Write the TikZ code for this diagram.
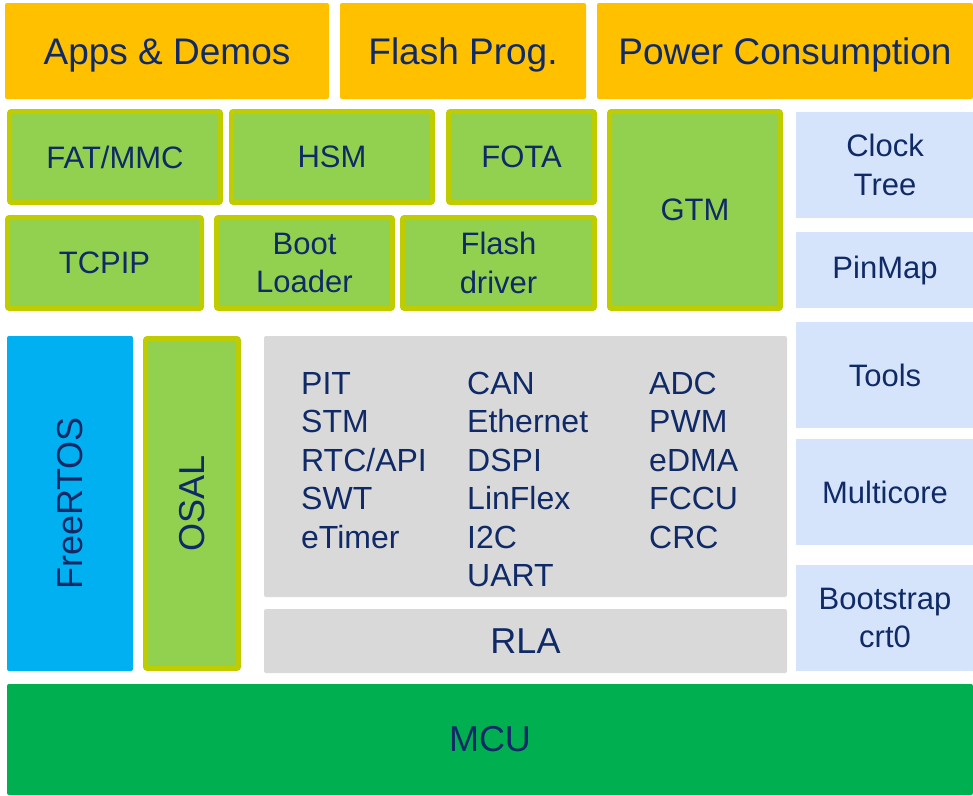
\documentclass[tikz,border=0pt]{standalone}
\usepackage{fontspec}
\setmainfont{Liberation Sans}
\definecolor{AppsOrange}{HTML}{FFC000}
\definecolor{DriverGreen}{HTML}{92D050}
\definecolor{DriverBorder}{HTML}{BFCC00}
\definecolor{ToolBlue}{HTML}{D5E4FB}
\definecolor{RtosBlue}{HTML}{00B0F0}
\definecolor{LayerGray}{HTML}{D9D9D9}
\definecolor{McuGreen}{HTML}{00B050}
\definecolor{LabelNavy}{HTML}{0F2A66}
\tikzset{
    block/.style={rectangle, rounded corners=2pt, inner sep=0pt, align=center,
        text=LabelNavy, font=\fontsize{31}{38.5}\selectfont},
    appbox/.style={block, fill=AppsOrange, font=\fontsize{37}{44}\selectfont,
        text height=26.5pt, text depth=0pt},
    drvbox/.style={block, fill=DriverGreen, draw=DriverBorder, line width=5pt},
    toolbox/.style={block, fill=ToolBlue, rounded corners=0pt, minimum width=178pt},
    graybox/.style={block, fill=LayerGray},
    biglabel/.style={font=\fontsize{36}{44}\selectfont},
    perlabel/.style={anchor=base west, inner sep=0pt, text=LabelNavy,
        font=\fontsize{32}{38.5}\selectfont}
}

\begin{document}
\begin{tikzpicture}[x=1pt, y=-1pt]

    \useasboundingbox (0,0) rectangle (973,795);

    % Applications
    \node[appbox, minimum width=324pt, minimum height=96pt] (apps) at (167,51) {Apps \& Demos};
    \node[appbox, minimum width=246pt, minimum height=96pt] (prog) at (463,51) {Flash Prog.};
    \node[appbox, minimum width=376pt, minimum height=96pt] (power) at (785,51) {Power Consumption};

    % Middleware and drivers
    \node[drvbox, minimum width=211pt, minimum height=91pt] (fat) at (115,157) {FAT/MMC};
    \node[drvbox, minimum width=201pt, minimum height=91pt] (hsm) at (332,157) {HSM};
    \node[drvbox, minimum width=146pt, minimum height=91pt] (fota) at (521.5,157) {FOTA};
    \node[drvbox, minimum width=171pt, minimum height=197pt] (gtm) at (695,210) {GTM};
    \node[drvbox, minimum width=194pt, minimum height=91pt] (tcpip) at (104.5,263) {TCPIP};
    \node[drvbox, minimum width=176pt, minimum height=91pt] (boot) at (304.5,263) {Boot\\Loader};
    \node[drvbox, minimum width=192pt, minimum height=91pt] (flash) at (498.5,263) {Flash\\driver};

    % Tools column
    \node[toolbox, minimum height=106pt] (clock) at (885,165) {Clock\\Tree};
    \node[toolbox, minimum height=76pt] (pinmap) at (885,270) {PinMap};
    \node[toolbox, minimum height=106pt] (tools) at (885,375) {Tools};
    \node[toolbox, minimum height=106pt] (multi) at (885,492) {Multicore};
    \node[toolbox, minimum height=106pt] (bootstrap) at (885,618) {Bootstrap\\crt0};

    % OS
    \node[block, biglabel, fill=RtosBlue, minimum width=126pt, minimum height=335pt]
        (rtos) at (70,503.5) {};
    \node[rotate=90, text=LabelNavy, biglabel] (rtostext) at (rtos.center) {FreeRTOS};
    \node[drvbox, minimum width=93pt, minimum height=330pt] (osal) at (192,503.5) {};
    \node[rotate=90, text=LabelNavy, biglabel] (osaltext) at (osal.center) {OSAL};

    % Low level drivers
    \node[graybox, minimum width=523pt, minimum height=261pt] (periph) at (525.5,466.5) {};
    \foreach \name [count=\i] in {PIT, STM, RTC/API, SWT, eTimer}
        \node[perlabel] (colA-\i) at (301,{394+38.5*(\i-1)}) {\name};
    \foreach \name [count=\i] in {CAN, Ethernet, DSPI, LinFlex, I2C, UART}
        \node[perlabel] (colB-\i) at (467,{394+38.5*(\i-1)}) {\name};
    \foreach \name [count=\i] in {ADC, PWM, eDMA, FCCU, CRC}
        \node[perlabel] (colC-\i) at (649,{394+38.5*(\i-1)}) {\name};

    \node[graybox, biglabel, minimum width=523pt, minimum height=64pt] (rla) at (525.5,641) {RLA};
    \node[block, biglabel, fill=McuGreen, minimum width=966pt, minimum height=111pt]
        (mcu) at (490,739.5) {MCU};

\end{tikzpicture}
\end{document}
